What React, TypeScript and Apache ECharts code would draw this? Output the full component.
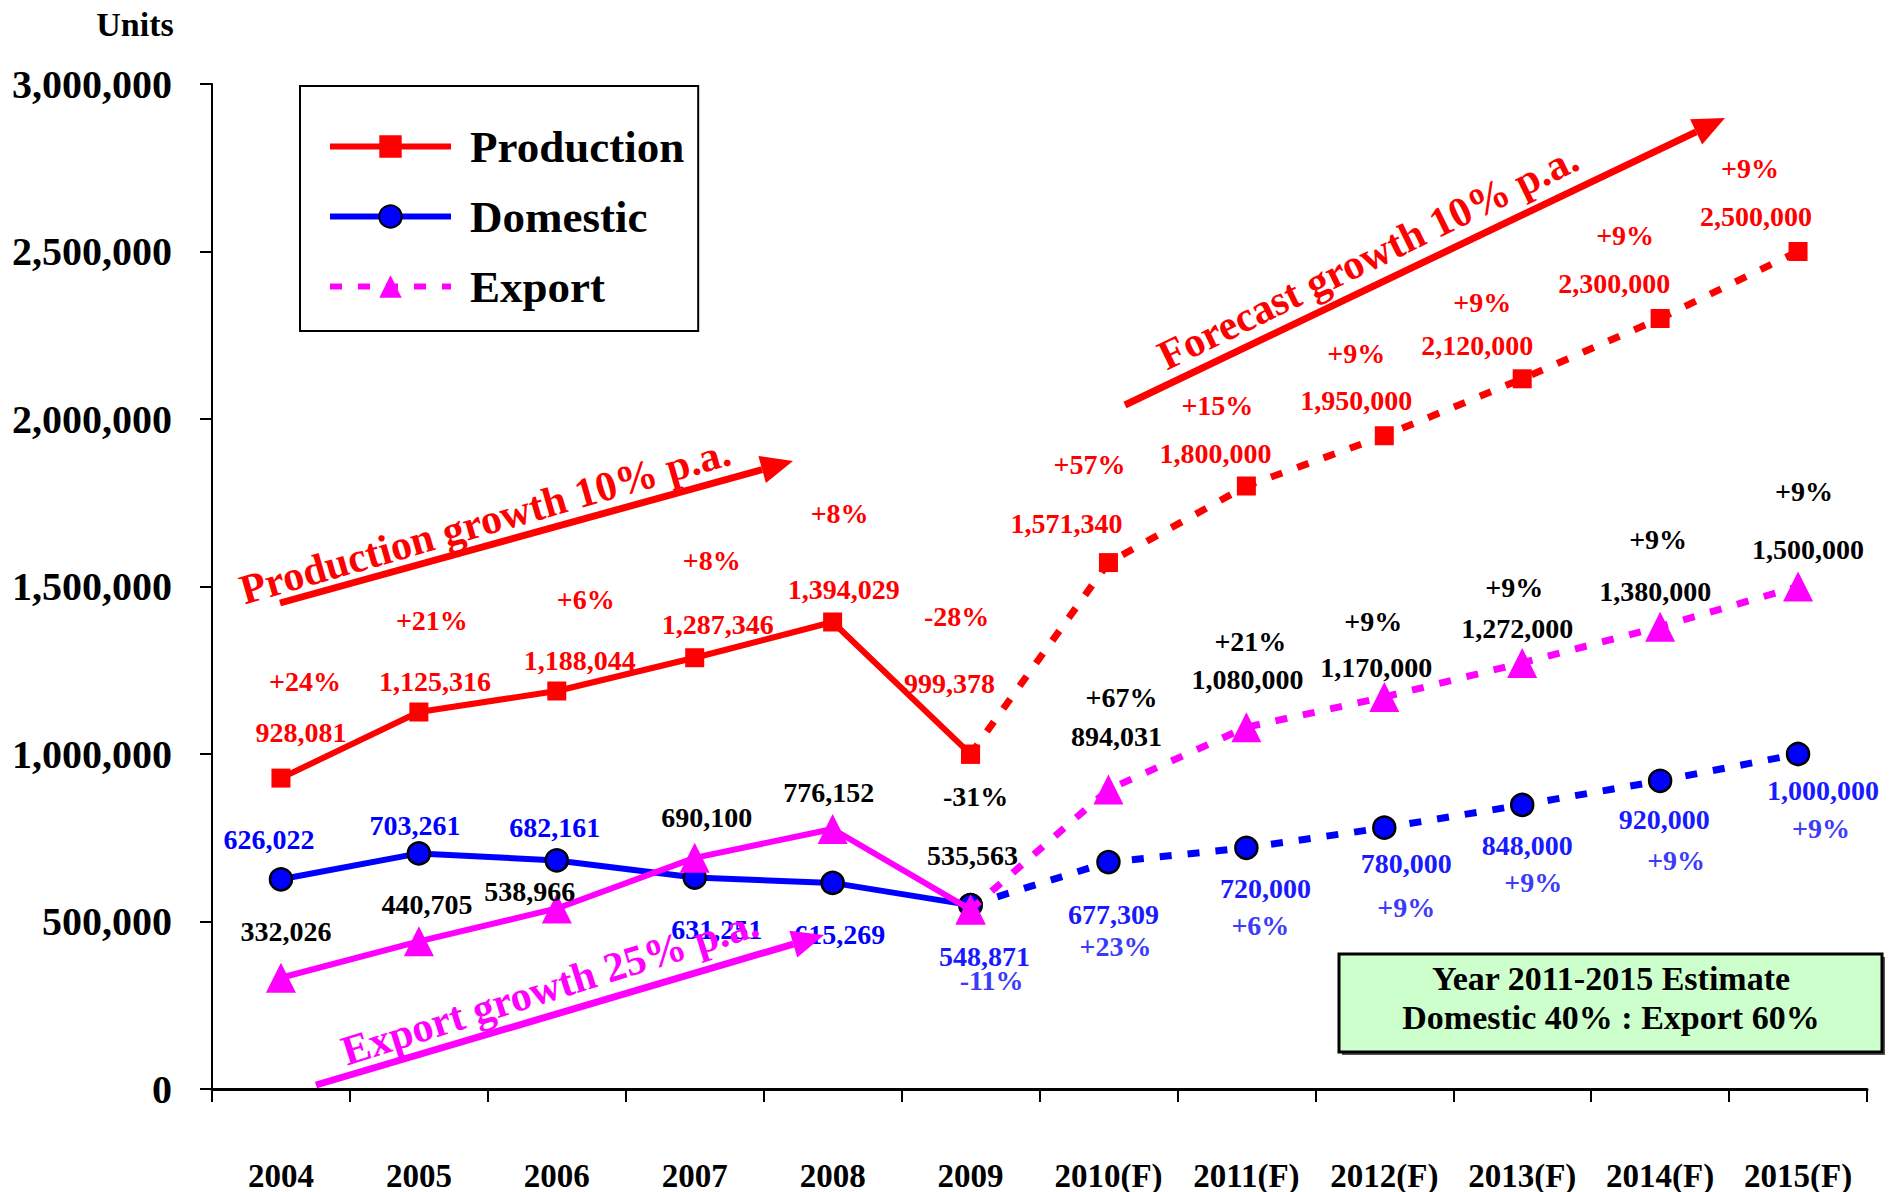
import React, { useEffect, useRef } from "react";
import * as echarts from "echarts";

const categories = ["2004", "2005", "2006", "2007", "2008", "2009", "2010(F)", "2011(F)", "2012(F)", "2013(F)", "2014(F)", "2015(F)"];
const production = [928081, 1125316, 1188044, 1287346, 1394029, 999378, 1571340, 1800000, 1950000, 2120000, 2300000, 2500000];
const domestic = [626022, 703261, 682161, 631251, 615269, 548871, 677309, 720000, 780000, 848000, 920000, 1000000];
const exportVals = [332026, 440705, 538966, 690100, 776152, 535563, 894031, 1080000, 1170000, 1272000, 1380000, 1500000];
const productionGrowth = ["+24%", "+21%", "+6%", "+8%", "+8%", "-28%", "+57%", "+15%", "+9%", "+9%", "+9%", "+9%"];
const domesticGrowth = [null, null, null, null, null, "-11%", "+23%", "+6%", "+9%", "+9%", "+9%", "+9%"];
const exportGrowth = [null, null, null, null, null, "-31%", "+67%", "+21%", "+9%", "+9%", "+9%", "+9%"];
const yTicks = [0, 500000, 1000000, 1500000, 2000000, 2500000, 3000000];
const lastActual = 5;

// label offsets (pixels, relative to the point)
const prodValOff = [[20, -46], [16, -31], [23, -31], [23, -33], [11, -33], [-21, -71], [-42, -39], [-31, -33], [-28, -35], [-45, -33], [-46, -35], [-42, -35]];
const prodGrOff = [[24, -97], [13, -92], [29, -92], [17, -97], [7, -109], [-14, -138], [-19, -98], [-29, -81], [-28, -82], [-40, -76], [-35, -83], [-48, -83]];
const domValOff = [[-12, -40], [-4, -28], [-2, -33], [22, 52], [7, 52], [14, 51], [5, 52], [19, 41], [22, 36], [5, 41], [4, 39], [25, 36]];
const domGrOff = [[0, 0], [0, 0], [0, 0], [0, 0], [0, 0], [21, 75], [7, 84], [14, 78], [22, 80], [11, 78], [16, 80], [23, 74]];
const expValOff = [[5, -46], [8, -37], [-27, -17], [12, -40], [-4, -36], [2, -54], [8, -53], [1, -48], [-8, -30], [-5, -34], [-5, -35], [10, -37]];
const expGrOff = [[0, 0], [0, 0], [0, 0], [0, 0], [0, 0], [5, -113], [13, -92], [4, -86], [-11, -76], [-8, -75], [-2, -87], [6, -95]];

const FONT = "'Liberation Serif', 'Times New Roman', serif";
const RED = "#ff0000";
const BLUE = "#0000ff";
const MAG = "#ff00ff";

const fmt = (v: number) => v.toLocaleString("en-US");

function labelSeries(name: string, values: number[], texts: (string | null)[], offs: number[][], colors: string[]) {
  return {
    name,
    type: "scatter",
    symbol: "circle",
    symbolSize: 2,
    itemStyle: { color: "rgba(0,0,0,0)" },
    silent: true,
    z: 20,
    data: values.map((v, i) => ({
      value: texts[i] == null ? null : v,
      label: {
        show: texts[i] != null,
        position: "inside",
        offset: offs[i],
        formatter: texts[i] == null ? "" : (texts[i] as string),
        color: colors[i],
      },
    })),
    label: {
      show: true, fontFamily: FONT, fontWeight: "bold", fontSize: 28, align: "center", verticalAlign: "middle",
      textBorderWidth: 0, textBorderColor: "transparent", opacity: 1,
    },
  };
}

function arrow(x1: number, y1: number, x2: number, y2: number, color: string) {
  const ang = Math.atan2(y2 - y1, x2 - x1);
  const L = 32, W = 14;
  const bx = x2 - L * Math.cos(ang), by = y2 - L * Math.sin(ang);
  const px = -Math.sin(ang), py = Math.cos(ang);
  return [
    { type: "line", shape: { x1, y1, x2: bx, y2: by }, style: { stroke: color, lineWidth: 7 }, z: 50 },
    {
      type: "polygon",
      shape: { points: [[x2, y2], [bx + px * W, by + py * W], [bx - px * W, by - py * W]] },
      style: { fill: color },
      z: 50,
    },
  ];
}

function rotText(text: string, x: number, y: number, deg: number, color: string) {
  return {
    type: "text",
    x,
    y,
    rotation: (deg * Math.PI) / 180,
    z: 50,
    style: { text, fill: color, font: `bold 42px ${FONT}`, textAlign: "center", textVerticalAlign: "middle" },
  };
}

export default function App() {
  const ref = useRef<HTMLDivElement>(null);
  useEffect(() => {
    const chart = echarts.init(ref.current!, null, { renderer: "svg" });
    const split = (arr: number[], actual: boolean) => arr.map((v, i) => (actual ? (i <= lastActual ? v : null) : i >= lastActual ? v : null));
    const dash = [12, 16];
    const option = {
      animation: false,
      backgroundColor: "#ffffff",
      textStyle: { fontFamily: FONT },
      grid: { left: 212, right: 25, top: 84, bottom: 103 },
      legend: {
        data: ["Production", "Domestic", "Export"],
        orient: "vertical",
        left: 300,
        top: 86,
        itemWidth: 121,
        itemHeight: 28,
        itemGap: 25,
        padding: [38, 14, 22, 27],
        borderColor: "#000",
        borderWidth: 2,
        backgroundColor: "#fff",
        lineStyle: { width: 6 },
        textStyle: { fontFamily: FONT, fontWeight: "bold", fontSize: 45, color: "#000", padding: [0, 0, 0, 14] },
      },
      xAxis: {
        type: "category",
        data: categories,
        boundaryGap: true,
        axisLine: { lineStyle: { color: "#000", width: 3 } },
        axisTick: { show: true, length: 13, lineStyle: { color: "#000", width: 2 } },
        axisLabel: { fontFamily: FONT, fontWeight: "bold", fontSize: 33, color: "#000", margin: 70, interval: 0 },
      },
      yAxis: {
        type: "value",
        min: 0,
        max: yTicks[yTicks.length - 1],
        interval: yTicks[1] - yTicks[0],
        axisLine: { show: true, lineStyle: { color: "#000", width: 2 } },
        axisTick: { show: true, length: 12, lineStyle: { color: "#000", width: 2 } },
        splitLine: { show: false },
        axisLabel: { fontFamily: FONT, fontWeight: "bold", fontSize: 40, color: "#000", margin: 40, formatter: (v: number) => fmt(v) },
      },
      series: [
        {
          name: "Production", type: "line", data: split(production, true), symbol: "rect", symbolSize: 19,
          itemStyle: { color: RED }, lineStyle: { color: RED, width: 6 }, z: 5,
        },
        {
          name: "Production (F)", type: "line", data: split(production, false), symbol: "rect", symbolSize: 19,
          itemStyle: { color: RED }, lineStyle: { color: RED, width: 7, type: dash }, z: 5,
        },
        {
          name: "Domestic", type: "line", data: split(domestic, true), symbol: "circle", symbolSize: 22,
          itemStyle: { color: BLUE, borderColor: "#000", borderWidth: 2.5 }, lineStyle: { color: BLUE, width: 6 }, z: 6,
        },
        {
          name: "Domestic (F)", type: "line", data: split(domestic, false), symbol: "circle", symbolSize: 22,
          itemStyle: { color: BLUE, borderColor: "#000", borderWidth: 2.5 }, lineStyle: { color: BLUE, width: 7, type: dash }, z: 6,
        },
        {
          name: "Export (A)", type: "line", data: split(exportVals, true), symbol: "triangle", symbolSize: 30,
          itemStyle: { color: MAG }, lineStyle: { color: MAG, width: 6 }, z: 7,
        },
        {
          name: "Export", type: "line", data: split(exportVals, false), symbol: "triangle", symbolSize: 30,
          itemStyle: { color: MAG }, lineStyle: { color: MAG, width: 7, type: dash }, z: 7,
        },
        labelSeries("lbl-prod-val", production, production.map(fmt), prodValOff, production.map(() => RED)),
        labelSeries("lbl-prod-gr", production, productionGrowth, prodGrOff, production.map(() => RED)),
        labelSeries("lbl-dom-val", domestic, domestic.map(fmt), domValOff, domestic.map((_, i) => (i < lastActual ? BLUE : "#1a1aff"))),
        labelSeries("lbl-dom-gr", domestic, domesticGrowth, domGrOff, domestic.map(() => "#3c3cf8")),
        labelSeries("lbl-exp-val", exportVals, exportVals.map(fmt), expValOff, exportVals.map(() => "#000")),
        labelSeries("lbl-exp-gr", exportVals, exportGrowth, expGrOff, exportVals.map(() => "#000")),
      ],
      graphic: [
        {
          type: "text", x: 135, y: 24, z: 50,
          style: { text: "Units", font: `bold 34px ${FONT}`, fill: "#000", textAlign: "center", textVerticalAlign: "middle" },
        },
        ...arrow(280, 603, 793, 461, RED),
        rotText("Production growth 10% p.a.", 485, 521, 16, RED),
        ...arrow(1125, 405, 1725, 118, RED),
        rotText("Forecast growth 10% p.a.", 1368, 257, 26, RED),
        ...arrow(316, 1085, 824, 935, MAG),
        rotText("Export growth 25% p.a.", 550, 987, 17.5, MAG),
        {
          type: "rect", shape: { x: 1342, y: 957, width: 543, height: 98 }, style: { fill: "#555" }, z: 40,
        },
        {
          type: "rect", shape: { x: 1339, y: 954, width: 543, height: 98 },
          style: { fill: "#ccffcc", stroke: "#000", lineWidth: 3 }, z: 41,
        },
        {
          type: "text", x: 1611, y: 978, z: 42,
          style: { text: "Year 2011-2015 Estimate", font: `bold 34px ${FONT}`, fill: "#000", textAlign: "center", textVerticalAlign: "middle" },
        },
        {
          type: "text", x: 1611, y: 1017, z: 42,
          style: { text: "Domestic 40% : Export 60%", font: `bold 34px ${FONT}`, fill: "#000", textAlign: "center", textVerticalAlign: "middle" },
        },
      ],
    };
    chart.setOption(option as any);
    return () => chart.dispose();
  }, []);
  return <div ref={ref} style={{ position: "fixed", left: 0, top: 0, width: 1892, height: 1192 }} />;
}
